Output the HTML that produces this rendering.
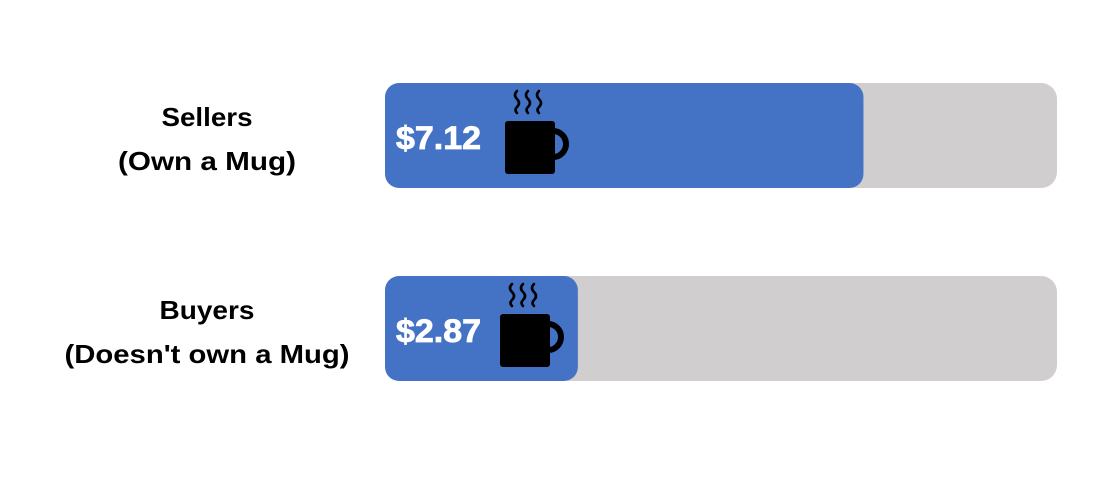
<!DOCTYPE html>
<html><head><meta charset="utf-8"><style>
html,body{margin:0;padding:0;background:#fff;}
svg{display:block;font-family:"Liberation Sans",sans-serif;}
</style></head><body>
<svg id="chart" width="1112" height="480"></svg>
<script>
const categories = ["Sellers", "Buyers"];
const subLabels = ["(Own a Mug)", "(Doesn't own a Mug)"];
const values = [7.12, 2.87];
const maxValue = [10];

const NS = "http://www.w3.org/2000/svg";
const svg = document.getElementById("chart");
const x0 = 385, x1 = 1057;
const xScale = v => x0 + (v / maxValue[0]) * (x1 - x0);
const rowTop = i => 83 + i * 193;
const barH = 105;
function mk(tag, attrs, parent) {
  const e = document.createElementNS(NS, tag);
  for (const k in attrs) e.setAttribute(k, attrs[k]);
  (parent || svg).appendChild(e);
  return e;
}
categories.forEach((c, i) => {
  const y = rowTop(i);
  const g = mk("g", {});
  
  
  const bg = mk("rect", {x: x0, y: y, width: x1 - x0, height: barH, rx: 16, fill: "#d0cece"}, g);
  
  
  const w = xScale(values[i]) - x0;
  const bar = mk("rect", {x: x0, y: y, width: w, height: barH, rx: 14, fill: "#4472c4"}, g);
  
  
  const t = mk("text", {x: 396, y: y + 66, fill: "#fff", "font-size": 32, "font-weight": "bold", stroke: "#fff", "stroke-width": 0.8, textLength: 85, lengthAdjust: "spacingAndGlyphs"}, g);
  t.textContent = "$" + values[i].toFixed(2);
  
  
  const mx = i === 0 ? 505 : 500, my = y + 38;
  const mug = mk("g", {fill: "#000"}, g);
  
  
  mk("rect", {x: mx, y: my, width: 50, height: 53, rx: 3}, mug);
  mk("path", {d: `M${mx+48} ${my+10} a13 13 0 0 1 0 26`, fill: "none", stroke: "#000", "stroke-width": 6}, mug);
  for (let s = 0; s < 3; s++) {
    const sx = mx + 12 + s * 11;
    mk("path", {d: `M${sx} ${my-30} q-4 4 0 8 q4 4 0 8 q-3 3 0 6`, fill: "none", stroke: "#000", "stroke-width": 2.6, "stroke-linecap": "round"}, mug);
  }
  const w1 = i === 0 ? 91 : 95, w2 = i === 0 ? 178 : 285;
  const l1 = mk("text", {x: 207, y: y + 43, "text-anchor": "middle", "font-size": 26, "font-weight": "bold", fill: "#000", textLength: w1, lengthAdjust: "spacingAndGlyphs"});
  l1.textContent = c;
  
  
  const l2 = mk("text", {x: 207, y: y + 87, "text-anchor": "middle", "font-size": 26, "font-weight": "bold", fill: "#000", textLength: w2, lengthAdjust: "spacingAndGlyphs"});
  l2.textContent = subLabels[i];
  
  
});
</script>
</body></html>
